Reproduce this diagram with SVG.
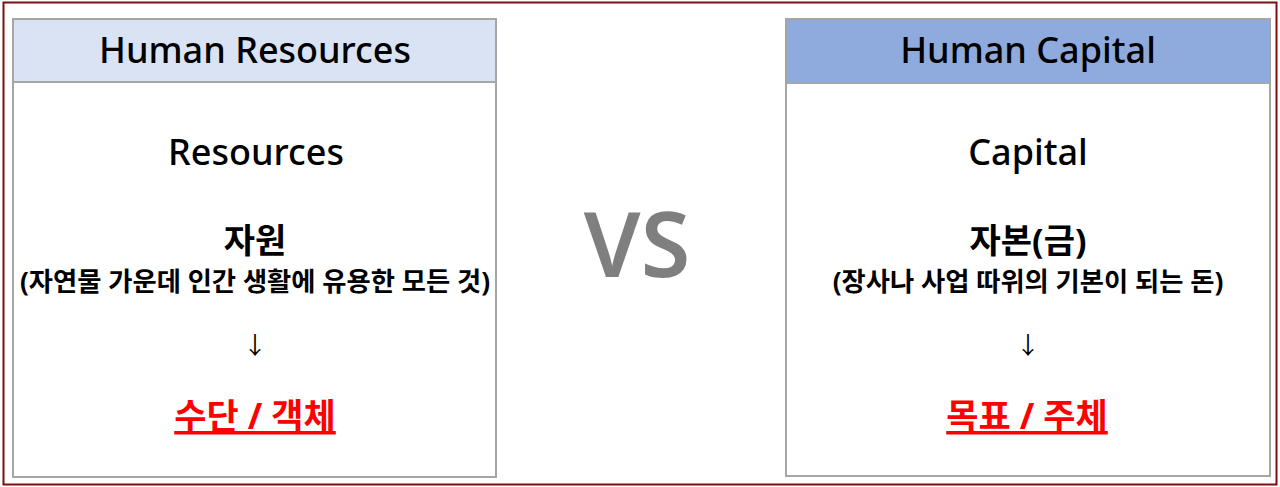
<svg xmlns="http://www.w3.org/2000/svg" width="1280" height="487" viewBox="0 0 1280 487">
<style>
.hdr{stroke:#a6a6a6;stroke-width:2}
.body{fill:#fff;stroke:#a6a6a6;stroke-width:2}
.t{font-family:"Noto Sans","Noto Sans CJK KR",sans-serif;fill:#000;text-anchor:middle}
.h{font-size:36px;font-weight:500}
.en{font-size:36px;font-weight:500}
.kr{font-size:34px;font-weight:bold}
.sub{font-size:26.3px;font-weight:bold}
.arr{font-size:24px}
.red{font-size:35px;font-weight:bold;fill:#ff0000;text-decoration:underline}
</style>
<rect x="0" y="0" width="1280" height="487" fill="#fff"/>
<rect x="3.5" y="2.5" width="1273" height="482" fill="none" stroke="#7a1010" stroke-width="2"/>
<g id="left">
<rect class="body" x="13" y="82" width="483" height="395"/>
<rect class="hdr" x="13" y="19" width="483" height="63" fill="#dae3f3"/>
<text class="t h" x="255" y="63">Human Resources</text>
<text class="t en" x="256" y="165">Resources</text>
<text class="t kr" x="255" y="253">자원</text>
<text class="t sub" x="255" y="291">(자연물 가운데 인간 생활에 유용한 모든 것)</text>
<text class="t arr" x="255" y="354">↓</text>
<text class="t red" x="255" y="429">수단 / 객체</text>
</g>
<g id="vs">
<text x="637" y="277" font-family="Noto Sans,sans-serif" font-size="90" font-weight="600" fill="#7f7f7f" text-anchor="middle">VS</text>
</g>
<g id="right">
<rect class="body" x="786" y="83" width="484" height="393"/>
<rect class="hdr" x="786" y="19" width="484" height="64" fill="#8faadc"/>
<text class="t h" x="1028" y="63">Human Capital</text>
<text class="t en" x="1028" y="165">Capital</text>
<text class="t kr" x="1028" y="253">자본(금)</text>
<text class="t sub" x="1028" y="291">(장사나 사업 따위의 기본이 되는 돈)</text>
<text class="t arr" x="1028" y="354">↓</text>
<text class="t red" x="1027" y="429">목표 / 주체</text>
</g>
<g id="connectors"/>
</svg>
